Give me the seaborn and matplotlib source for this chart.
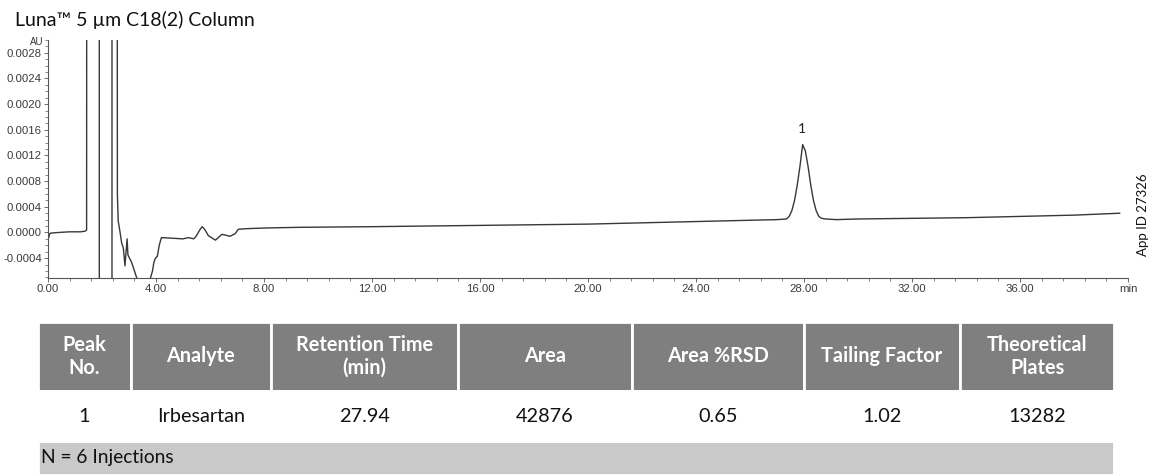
import numpy as np
import pandas as pd
import matplotlib.pyplot as plt
from matplotlib.ticker import MultipleLocator
import seaborn as sns

sns.set_theme(style='ticks')
plt.rcParams['font.family'] = ['Lato', 'DejaVu Sans']

# --- chromatogram trace (min, AU) ---
time_min = [0.00, 0.03, 0.06, 0.10, 0.40, 0.80, 1.20, 1.38, 1.43, 1.45,
            1.90, 1.90, 2.37, 2.37,
            2.54, 2.57, 2.60, 2.67, 2.73, 2.79, 2.85, 2.93, 2.96, 3.10, 3.28, 3.50,
            3.70, 3.80, 3.87, 3.92, 3.98, 4.05, 4.12, 4.20, 4.60, 5.00, 5.20, 5.40,
            5.50, 5.62, 5.71, 5.80, 5.94, 6.20, 6.44, 6.56, 6.74, 6.93, 7.05, 7.40,
            8.10, 9.30, 12.0, 14.0, 16.0, 18.0, 20.0, 22.0, 24.0, 26.0, 27.0,
            27.35, 27.45, 27.55, 27.65, 27.75, 27.85, 27.95, 28.05, 28.15, 28.25,
            28.35, 28.45, 28.55, 28.65, 28.80, 29.20, 30.0, 32.0, 34.0, 36.0, 38.0, 39.7]
absorbance = [-0.00003, -0.00008, -0.00002, -0.00001, 0.0, 0.00001, 0.00001, 0.00002, 0.00004, 0.02,
              0.02, -0.02, -0.02, 0.02,
              0.02, 0.0006, 0.00018, 0.0, -0.00017, -0.00024, -0.00052, -0.0001, -0.00035, -0.00047, -0.0007, -0.0009,
              -0.0009, -0.0007, -0.0006, -0.00047, -0.0004, -0.00037, -0.0002, -0.00008, -0.00009, -0.0001, -0.00008, -0.0001,
              -0.00005, 0.00004, 0.00009, 0.00005, -0.00005, -0.00012, -0.00003, -0.00004, -0.00006, -0.00002, 0.00005, 0.00006,
              0.00007, 0.00008, 0.00009, 0.0001, 0.00011, 0.00012, 0.00013, 0.00015, 0.00017, 0.00019, 0.0002,
              0.00021, 0.00025, 0.00034, 0.0005, 0.00074, 0.00103, 0.00137, 0.00127, 0.00103, 0.00074,
              0.0005, 0.00034, 0.00025, 0.00022, 0.00021, 0.0002, 0.00021, 0.00022, 0.00023, 0.00025, 0.00027, 0.0003]

peak_rt = 27.94
peak_label = '1'
peak_label_au = 0.00162

x_ticks = [0, 4, 8, 12, 16, 20, 24, 28, 32, 36, 40]
x_labels = ['0.00', '4.00', '8.00', '12.00', '16.00', '20.00', '24.00',
            '28.00', '32.00', '36.00', 'min']
y_ticks = [-0.0004, 0.0, 0.0004, 0.0008, 0.0012, 0.0016, 0.0020, 0.0024, 0.0028]
y_labels = ['-0.0004', '0.0000', '0.0004', '0.0008', '0.0012', '0.0016',
            '0.0020', '0.0024', '0.0028']

# --- results table ---
headers = ['Peak\nNo.', 'Analyte', 'Retention Time\n(min)', 'Area',
           'Area %RSD', 'Tailing Factor', 'Theoretical\nPlates']
results = ['1', 'Irbesartan', '27.94', '42876', '0.65', '1.02', '13282']
footnote = 'N = 6 Injections'
col_widths = [92.5, 140.5, 187, 173.5, 172.5, 156, 154]

W, H = 1154, 475
fig = plt.figure(figsize=(W / 100, H / 100), dpi=100)
fig.patch.set_facecolor('white')

ax = fig.add_axes([48 / W, 1 - 278 / H, 1080 / W, 238 / H])
df = pd.DataFrame({'time': time_min, 'au': absorbance})
sns.lineplot(data=df, x='time', y='au', ax=ax, estimator=None, sort=False,
             color='#383838', linewidth=1.0)
ax.set_xlim(0, 40)
ax.set_ylim(-0.00071, 0.003)
ax.set_xticks(x_ticks)
ax.set_xticklabels(x_labels)
ax.set_yticks(y_ticks)
ax.set_yticklabels(y_labels)
ax.xaxis.set_minor_locator(MultipleLocator(0.8))
ax.yaxis.set_minor_locator(MultipleLocator(0.0001))
ax.set_xlabel('')
ax.set_ylabel('')
sns.despine(ax=ax)
for s in ['left', 'bottom']:
    ax.spines[s].set_color('#555555')
    ax.spines[s].set_linewidth(0.8)
ax.tick_params(which='major', length=3, width=0.6, color='#555555',
               labelsize=8.2, labelcolor='#3a3a3a', pad=1.5,
               labelfontfamily='Liberation Sans')
ax.tick_params(which='minor', length=2, width=0.5, color='#555555')
ax.text(-0.004, 0.992, 'AU', transform=ax.transAxes, ha='right', va='center',
        fontsize=7, color='#3a3a3a', family='Liberation Sans')
ax.text(peak_rt, peak_label_au, peak_label, ha='center', va='center',
        fontsize=10, color='#222222')

fig.text(15 / W, 1 - 20 / H, 'Luna\u2122 5 \u00b5m C18(2) Column', ha='left',
         va='center', fontsize=14, color='#111111')
fig.text(1143 / W, 1 - 215 / H, 'App ID 27326', rotation=90, ha='center',
         va='center', fontsize=9.5, color='#111111')

# table area
top, bottom = 322, 475
tax = fig.add_axes([38 / W, 0, (1114 - 38) / W, (bottom - top) / H])
tax.axis('off')
main_h = (441 - top) / (bottom - top)
tbl = tax.table(cellText=[headers, results], colWidths=col_widths,
                cellLoc='center', bbox=[0, 1 - main_h, 1, main_h])
tbl.auto_set_font_size(False)
for (r, c), cell in tbl.get_celld().items():
    cell.set_edgecolor('white')
    cell.set_linewidth(2)
    cell.set_height(69 if r == 0 else 50)
    txt = cell.get_text()
    if r == 0:
        cell.set_facecolor('#7f7f7f')
        txt.set_color('white')
        txt.set_fontweight('bold')
        txt.set_fontsize(14.3)
        txt.set_linespacing(1.2)
    else:
        cell.set_facecolor('white')
        txt.set_color('#111111')
        txt.set_fontsize(14.3)

ftbl = tax.table(cellText=[[footnote]], cellLoc='left',
                 bbox=[0, 0, 1, 1 - main_h])
ftbl.auto_set_font_size(False)
for cell in ftbl.get_celld().values():
    cell.set_edgecolor('white')
    cell.set_linewidth(2)
    cell.set_facecolor('#c9c9c9')
    cell.PAD = 0.003
    cell.get_text().set_fontsize(13.8)
    cell.get_text().set_color('#111111')

fig.savefig('out.png', dpi=100, facecolor='white')
